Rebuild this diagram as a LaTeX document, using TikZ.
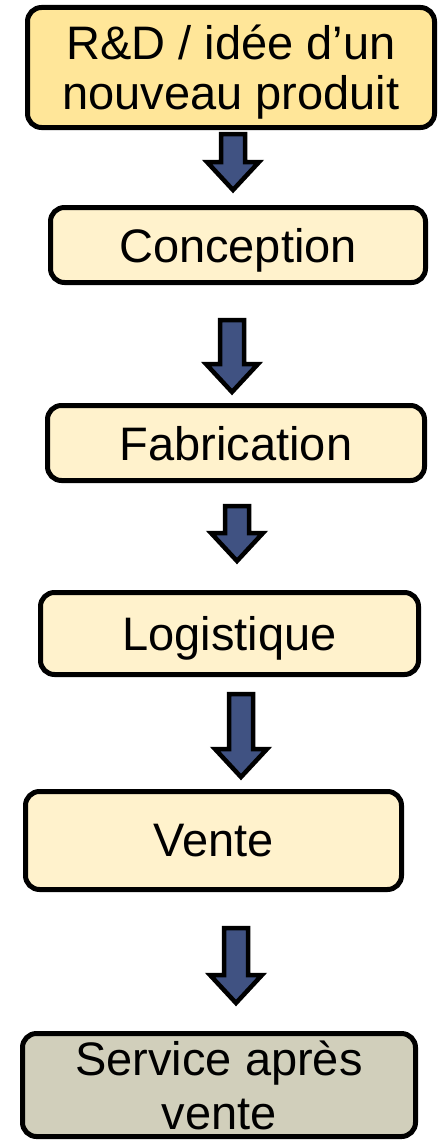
\documentclass[tikz,border=0pt]{standalone}
\usepackage{fontspec}
\setmainfont{Liberation Sans}
\usetikzlibrary{calc}
\definecolor{ideafill}{RGB}{255,230,153}
\definecolor{stagefill}{RGB}{255,242,204}
\definecolor{savfill}{RGB}{209,207,187}
\definecolor{arrowblue}{RGB}{64,82,130}
\def\stagenode#1{\node[stage,#1]}

\begin{document}
\begin{tikzpicture}[x=1pt,y=-1pt,
  stage/.style={draw,line width=5pt,rounded corners=14pt,fill=stagefill,
    align=center,inner sep=0pt,text depth=0pt,
    font=\fontsize{47}{50}\selectfont},
  bigarrow/.style={draw,line width=4.5pt,fill=arrowblue,line join=miter,
    to path={let \p1=(\tikztostart),\p2=(\tikztotarget) in
      (\x1-12pt,\y1) -- (\x1-12pt,\y2+28pt) -- (\x1-26pt,\y2+28pt) -- (\x1,\y2)
      -- (\x1+26pt,\y2+28pt) -- (\x1+12pt,\y2+28pt) -- (\x1+12pt,\y1) -- cycle}}]
\useasboundingbox (0,0) rectangle (438,1140);
\stagenode{fill=ideafill,minimum width=407pt,minimum height=120pt} (rd) at (231,67.5) {R\&D / idée d’un\\nouveau produit};
\stagenode{minimum width=375pt,minimum height=75pt} (concept) at (238,245) {Conception};
\stagenode{minimum width=377pt,minimum height=75pt} (fab) at (236,443) {Fabrication};
\stagenode{minimum width=378pt,minimum height=82pt} (logi) at (229.5,633.5) {Logistique};
\stagenode{minimum width=376pt,minimum height=98pt} (vente) at (213.5,840.5) {Vente};
\stagenode{fill=savfill,minimum width=393pt,minimum height=103pt} (sav) at (219,1085) {Service après\\[4pt]vente};
\draw[bigarrow] ([xshift=2pt,yshift=-4pt]rd.south) to ([yshift=15pt]concept.north);
\draw[bigarrow] ([xshift=-6pt,yshift=-35pt]concept.south) to ([yshift=11pt]fab.north);
\draw[bigarrow] ([xshift=1pt,yshift=-23pt]fab.south) to ([yshift=29pt]logi.north);
\draw[bigarrow] ([xshift=11.5pt,yshift=-17pt]logi.south) to ([yshift=12pt]vente.north);
\draw[bigarrow] ([xshift=22.5pt,yshift=-36pt]vente.south) to ([yshift=28pt]sav.north);
\end{tikzpicture}
\end{document}
